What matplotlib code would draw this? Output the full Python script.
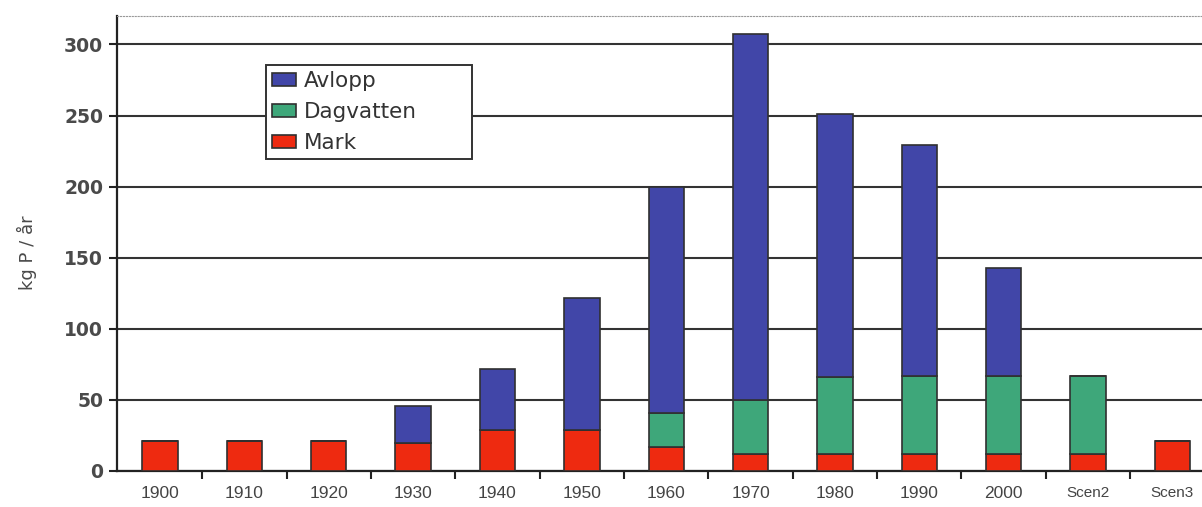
import matplotlib
matplotlib.use('Agg')
import numpy as np
from matplotlib import pyplot as plt

plt.rcParams['font.family'] = ['Liberation Sans', 'DejaVu Sans']

categories = ['1900', '1910', '1920', '1930', '1940', '1950', '1960',
              '1970', '1980', '1990', '2000', 'Scen2', 'Scen3']
mark = [21, 21, 21, 20, 29, 29, 17, 12, 12, 12, 12, 12, 21]
dagvatten = [0, 0, 0, 0, 0, 0, 24, 38, 54, 55, 55, 55, 0]
avlopp = [0, 0, 0, 26, 43, 93, 159, 257, 185, 162, 76, 0, 0]

BLUE = '#4146A8'
GREEN = '#3EA77A'
RED = '#EE2A10'
EDGE = '#303030'

fig = plt.figure(figsize=(12.02, 5.07), dpi=100)
ax = fig.add_axes([117 / 1202, 36 / 507, 1090 / 1202, 455 / 507])

x = np.arange(len(categories))
w = 0.42
mark_arr = np.array(mark)
dag_arr = np.array(dagvatten)
avl_arr = np.array(avlopp)

ax.bar(x, mark_arr, w, color=RED, edgecolor=EDGE, linewidth=1.2, label='Mark', zorder=3)
ax.bar(x, dag_arr, w, bottom=mark_arr, color=GREEN, edgecolor=EDGE, linewidth=1.2,
       label='Dagvatten', zorder=3)
ax.bar(x, avl_arr, w, bottom=mark_arr + dag_arr, color=BLUE, edgecolor=EDGE,
       linewidth=1.2, label='Avlopp', zorder=3)

ax.set_xlim(-0.51, 12.41)
ax.set_ylim(0, 320)
ax.set_yticks([0, 50, 100, 150, 200, 250, 300])
ax.set_yticklabels(['0', '50', '100', '150', '200', '250', '300'],
                   fontsize=13.5, fontweight='bold', color='#4a4a4a',
                   family='DejaVu Sans')
ax.yaxis.grid(True, color='#333333', linewidth=1.5, zorder=0)
ax.set_axisbelow(True)

ax.set_xticks(x)
ax.set_xticklabels(categories, fontsize=12.5, color='#444444')
for lbl in ax.get_xticklabels()[-2:]:
    lbl.set_fontsize(11)
ax.tick_params(axis='x', which='major', length=0, pad=11)
ax.set_xticks(x[:-1] + 0.5, minor=True)
ax.tick_params(axis='x', which='minor', length=6, width=1.5, color='#222222')
ax.tick_params(axis='y', length=6, width=1.5, color='#222222', pad=4)

ax.spines['right'].set_visible(False)
ax.spines['top'].set_color('#999999')
ax.spines['top'].set_linestyle(':')
ax.spines['left'].set_linewidth(1.6)
ax.spines['left'].set_color('#222222')
ax.spines['bottom'].set_linewidth(1.6)
ax.spines['bottom'].set_color('#222222')

ax.set_ylabel('kg P / år', fontsize=13, color='#4a4a4a', family='DejaVu Sans')
ax.yaxis.set_label_coords(-0.073, 0.48)

handles, labels = ax.get_legend_handles_labels()
leg = ax.legend(handles[::-1], labels[::-1], loc='upper left', mode='expand',
                bbox_to_anchor=(266 / 1202, (507 - 160) / 507, 206 / 1202, 95 / 507),
                bbox_transform=fig.transFigure,
                prop={'family': 'DejaVu Sans', 'size': 15.5}, frameon=True,
                fancybox=False, edgecolor='#333333', framealpha=1,
                handlelength=1.1, handleheight=0.55, handletextpad=0.35,
                borderpad=0.3, labelspacing=0.5, borderaxespad=0)
leg.get_frame().set_linewidth(1.4)
for t in leg.get_texts():
    t.set_color('#333333')

fig.savefig('out.png', dpi=100)
